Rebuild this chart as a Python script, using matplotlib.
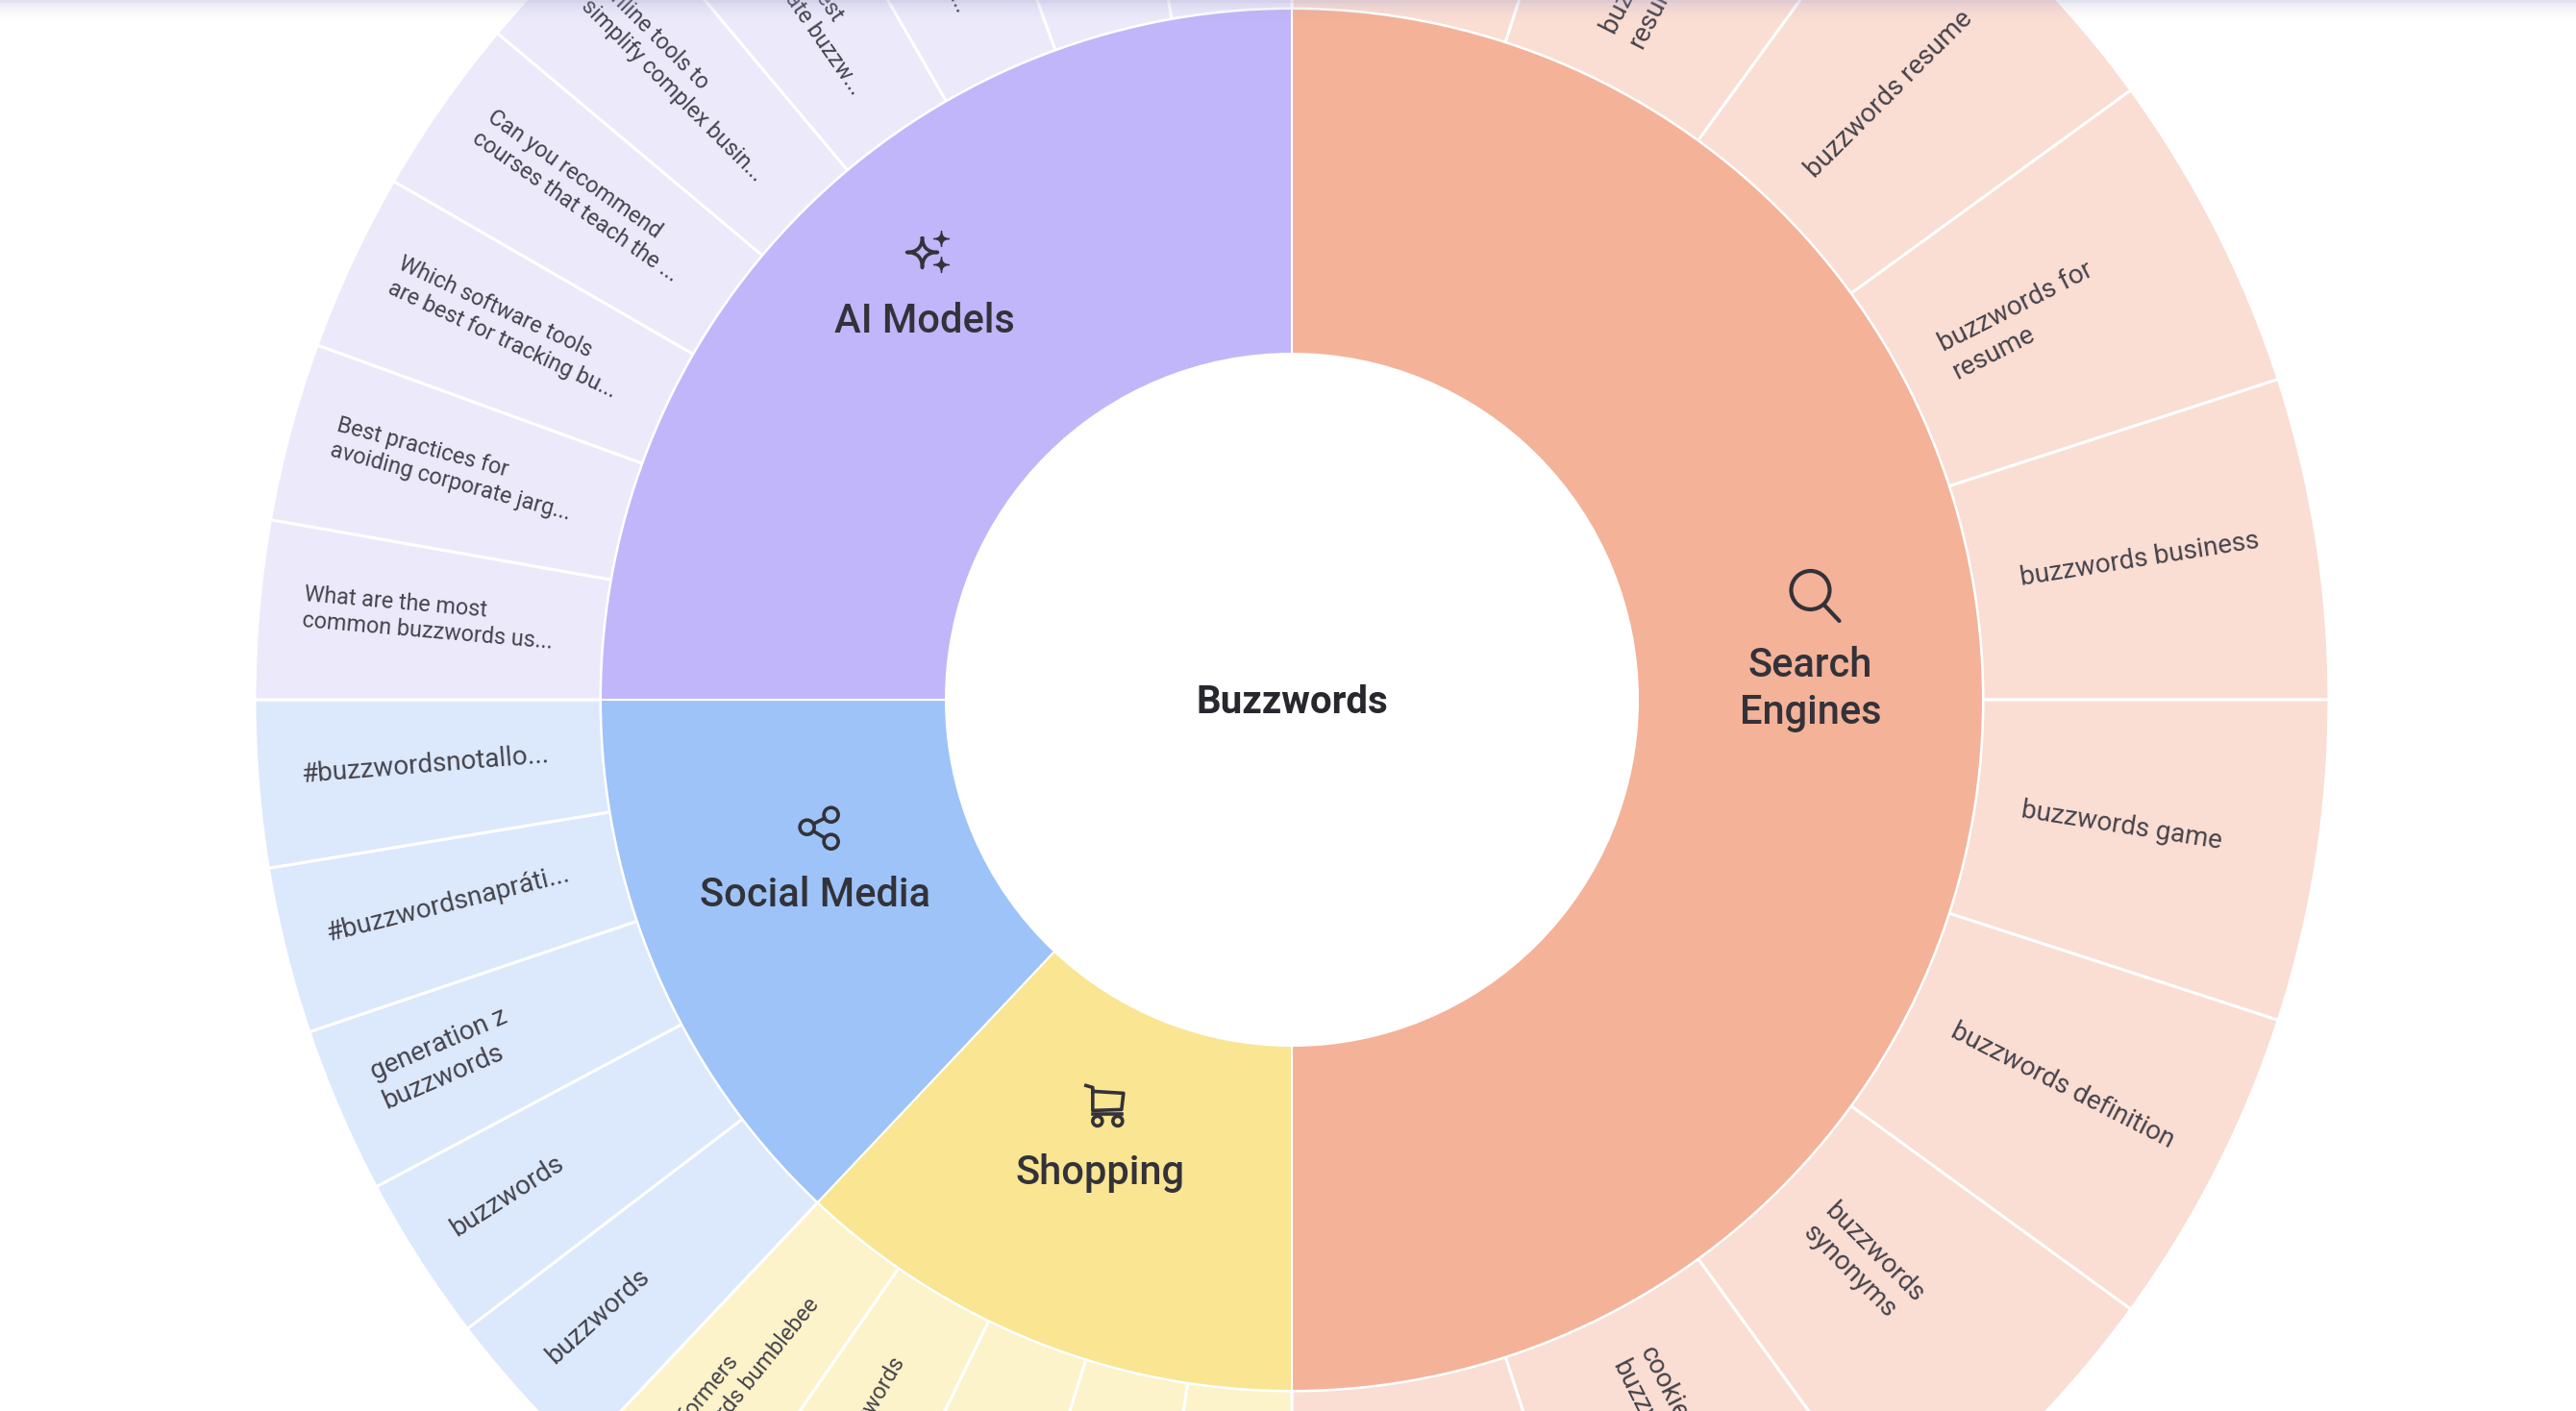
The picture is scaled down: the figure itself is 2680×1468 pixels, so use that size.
import matplotlib
matplotlib.use('Agg')
import matplotlib.pyplot as plt
import numpy as np
from matplotlib.patches import Circle, PathPatch
from matplotlib.path import Path

plt.rcParams['font.family'] = ['Roboto', 'DejaVu Sans']

W, H = 2680, 1468
CX, CY = 1344, H - 728
R_IN, R_MID, R_OUT = 360, 719, 1079

# clockwise from the top, sizes are the angular share of each query
search_labels = ['', 'buzzwords in\nresume', 'buzzwords resume', 'buzzwords for\nresume', 'buzzwords business',
                 'buzzwords game', 'buzzwords definition', 'buzzwords\nsynonyms', 'cookie\nbuzzwords', '']
search_values = [18, 18, 18, 18, 18, 18, 18, 18, 18, 18]
shopping_labels = ['', '', '', 'bumblebee buzzwords', 'transformers\nbuzzwords bumblebee']
shopping_values = [8.67, 8.67, 8.67, 8.67, 8.65]
social_labels = ['buzzwords', 'buzzwords', 'generation z\nbuzzwords', '#buzzwordsnapráti...', '#buzzwordsnotallo...']
social_values = [9.33, 9.33, 9.33, 9.33, 9.35]
ai_labels = ['What are the most\ncommon buzzwords us...', 'Best practices for\navoiding corporate jarg...',
             'Which software tools\nare best for tracking bu...', 'Can you recommend\ncourses that teach the ...',
             'Online tools to\nsimplify complex busin...', 'What are the best\nin our corporate buzzw...',
             'How are buzzwords\nin the business world...', '', '']
ai_values = [10, 10, 10, 10, 10, 10, 10, 10, 10]

categories = ['Search\nEngines', 'Shopping', 'Social Media', 'AI Models']
inner_colors = ['#F4B298', '#F9E592', '#9DC3F8', '#C1B6F9']
outer_colors = ['#FADDD3', '#FCF3CA', '#DCE8FC', '#ECE9FB']
center_label = 'Buzzwords'

groups = [search_values, shopping_values, social_values, ai_values]
group_labels = [search_labels, shopping_labels, social_labels, ai_labels]
group_fonts = [20, 16.8, 20, 16.8]

TEXT = '#44434b'
DARK = '#33323a'


def polar(a, r):
    return CX + r * np.sin(np.radians(a)), CY + r * np.cos(np.radians(a))


def icon_search(ax, x, y):
    ax.add_patch(Circle((x - 4, y + 6), 20, fill=False, ec=DARK, lw=3, zorder=5))
    ax.plot([x + 10, x + 26], [y - 9, y - 26], color=DARK, lw=3, solid_capstyle='round', zorder=5)


def icon_cart(ax, x, y):
    ax.plot([x - 19, x - 12, x - 12, x + 18, x + 20, x - 12], [y + 21, y + 19, y - 5, y - 4, y + 13, y + 15],
            color=DARK, lw=2.6, solid_joinstyle='round', zorder=5)
    ax.plot([x - 12, x + 18], [y - 9, y - 9], color=DARK, lw=2.6, zorder=5)
    for dx in (-7, 14):
        ax.add_patch(Circle((x + dx, y - 16), 5, fill=False, ec=DARK, lw=2.6, zorder=5))


def icon_share(ax, x, y):
    pts = [(x + 13, y + 14), (x - 12, y + 1), (x + 13, y - 14)]
    ax.plot([pts[0][0], pts[1][0], pts[2][0]], [pts[0][1], pts[1][1], pts[2][1]], color=DARK, lw=2.6, zorder=5)
    for p in pts:
        ax.add_patch(Circle(p, 7.5, fc=inner_colors[2], ec=DARK, lw=2.6, zorder=6))


def star(ax, x, y, s, filled):
    verts = [(x, y + s), (x, y), (x + s, y), (x, y), (x, y - s), (x, y), (x - s, y), (x, y), (x, y + s)]
    codes = [Path.MOVETO] + [Path.CURVE3] * 8
    ax.add_patch(PathPatch(Path(verts, codes), fc=DARK if filled else 'none', ec=DARK, lw=1 if filled else 2.6,
                           joinstyle='round', zorder=5))


def icon_sparkle(ax, x, y):
    star(ax, x - 6, y - 1, 16, False)
    star(ax, x + 14, y + 13, 8, True)
    star(ax, x + 14, y - 14, 8, True)


icons = [icon_search, icon_cart, icon_share, icon_sparkle]
# nudges of each category label from the middle of its wedge
label_shift = [(0, 11), (0, 9), (-1, 10), (-1, 12)]
icon_gap = [72, 70, 70, 73]

fig = plt.figure(figsize=(W / 100, H / 100), dpi=100, facecolor='white')
ax = fig.add_axes([0, 0, 1, 1])

outer_values = [v for g in groups for v in g]
outer_seg_colors = [c for g, c in zip(groups, outer_colors) for _ in g]
inner_values = [sum(g) for g in groups]

ax.pie(outer_values, colors=outer_seg_colors, radius=R_OUT, center=(CX, CY), startangle=90, counterclock=False,
       wedgeprops=dict(width=R_OUT - R_MID, edgecolor='white', linewidth=2.2))
ax.pie(inner_values, colors=inner_colors, radius=R_MID, center=(CX, CY), startangle=90, counterclock=False,
       wedgeprops=dict(width=R_MID - R_IN, edgecolor='white', linewidth=1.5))

# query labels, left aligned, starting at a fixed radius
start = 0
for g, labs, size in zip(groups, group_labels, group_fonts):
    for v, lab in zip(g, labs):
        a = start + v / 2
        start += v
        if not lab:
            continue
        right = a < 180
        x, y = polar(a, 768 if right else 1033)
        rot = 90 - a if right else 270 - a
        # text sits a little above the ray through the wedge
        x -= 6 * np.sin(np.radians(rot))
        y += 6 * np.cos(np.radians(rot))
        ax.text(x, y, lab, rotation=rot, rotation_mode='anchor', ha='left', va='center', multialignment='left',
                fontsize=size, color=TEXT, linespacing=1.25, zorder=4)

# category labels with icons
start = 0
for name, val, icon, shift, gap in zip(categories, inner_values, icons, label_shift, icon_gap):
    a = start + val / 2
    start += val
    x, y = polar(a, (R_IN + R_MID) / 2)
    x, y = x + shift[0], y + shift[1]
    first_line_y = y
    if '\n' in name:
        first_line_y = y + 25
    ax.text(x, y, name, ha='center', va='center', multialignment='center', fontsize=30, fontweight='medium',
            color=DARK, linespacing=1.28, zorder=5)
    icon(ax, x + 4, first_line_y + gap)

ax.text(CX, CY - 3, center_label, ha='center', va='center', fontsize=29, fontweight='bold', color='#27272e', zorder=5)

# soft shadow of the page header
shade = np.zeros((26, 1, 4))
shade[..., :3] = (0.62, 0.62, 0.78)
shade[..., 3] = (0.26 * np.linspace(1, 0, 26) ** 2)[:, None]
shade[:3, 0, 3] = 0.3
ax.imshow(shade, extent=(0, W, H - 26, H), aspect='auto', zorder=8, interpolation='bilinear')

ax.set_xlim(0, W)
ax.set_ylim(0, H)
ax.set_aspect('equal')
ax.axis('off')

fig.savefig('out.png', dpi=100, facecolor='white')
